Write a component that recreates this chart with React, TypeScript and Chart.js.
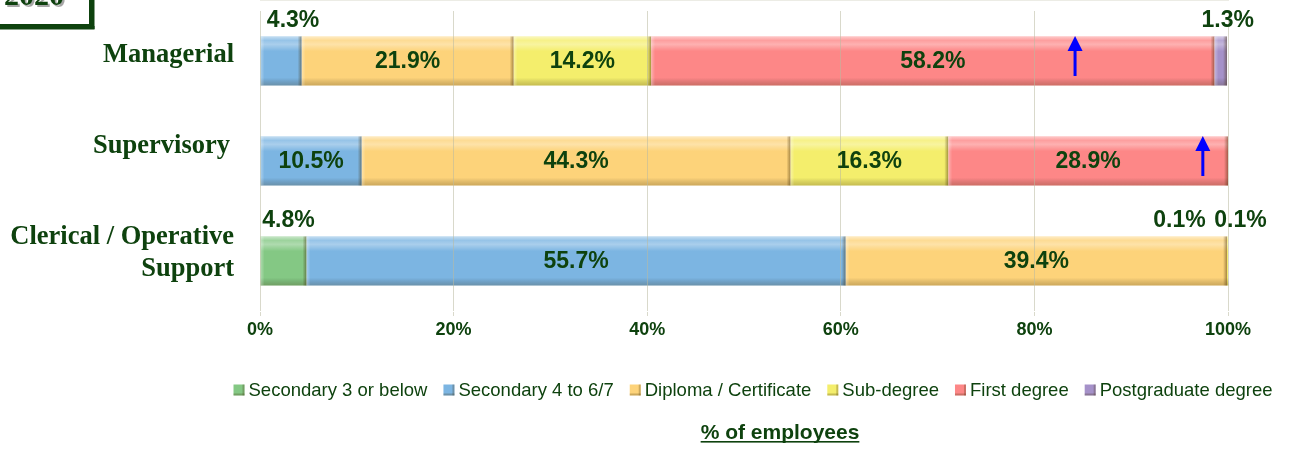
import { useEffect, useRef } from 'react';
import { Chart, registerables } from 'chart.js';

Chart.register(...registerables);

// ---------- data ----------
const CATEGORIES: (string | string[])[] = ['Managerial', 'Supervisory', ['Clerical / Operative', 'Support']];
const SERIES_NAMES = [
  'Secondary 3 or below',
  'Secondary 4 to 6/7',
  'Diploma / Certificate',
  'Sub-degree',
  'First degree',
  'Postgraduate degree',
];
const SECONDARY_3_OR_BELOW = [0, 0, 4.8];
const SECONDARY_4_TO_6_7 = [4.3, 10.5, 55.7];
const DIPLOMA_CERTIFICATE = [21.9, 44.3, 39.4];
const SUB_DEGREE = [14.2, 16.3, 0.1];
const FIRST_DEGREE = [58.2, 28.9, 0.1];
const POSTGRADUATE_DEGREE = [1.3, 0, 0];
const X_TICK_VALUES = [0, 20, 40, 60, 80, 100];
const ARROW_CATEGORIES = [0, 1];
const ARROW_VALUES = [84.2, 97.4];
const YEAR_LABEL = '2020';
const AXIS_TITLE = '% of employees';

const SERIES_VALUES = [
  SECONDARY_3_OR_BELOW,
  SECONDARY_4_TO_6_7,
  DIPLOMA_CERTIFICATE,
  SUB_DEGREE,
  FIRST_DEGREE,
  POSTGRADUATE_DEGREE,
];

// ---------- styles ----------
const COLORS = ['#84c884', '#7cb5e2', '#fdd37a', '#f4ee6c', '#fd8787', '#a591c9'];
const TEXT_GREEN = '#0e420e';
const SANS = '"Liberation Sans", Arial, sans-serif';
const SERIF = '"Liberation Serif", "Times New Roman", serif';
// horizontal nudges for labels placed above narrow segments: key = dataset-category
const ABOVE_DX: Record<string, number> = { '1-0': 12, '5-0': 7, '0-2': 5, '3-2': -48, '4-2': 12 };
const CATEGORY_LABEL_DY = [1, -8, -17];
const CATEGORY_LABEL_DX = [0, -4, 0];

const bevelPlugin = {
  id: 'bevel',
  afterDatasetsDraw(chart: any) {
    const ctx = chart.ctx as CanvasRenderingContext2D;
    ctx.save();
    chart.data.datasets.forEach((ds: any, i: number) => {
      const meta = chart.getDatasetMeta(i);
      meta.data.forEach((el: any, j: number) => {
        const v = ds.data[j];
        if (!v) return;
        const { x, y, base, height } = el.getProps(['x', 'y', 'base', 'height'], true);
        const l = Math.min(x, base);
        const r = Math.max(x, base);
        const t = y - height / 2;
        const w = r - l;
        if (w < 0.5) return;
        const g = ctx.createLinearGradient(0, t, 0, t + height);
        g.addColorStop(0, 'rgba(255,255,255,0.55)');
        g.addColorStop(0.08, 'rgba(255,255,255,0.2)');
        g.addColorStop(0.16, 'rgba(255,255,255,0.35)');
        g.addColorStop(0.3, 'rgba(255,255,255,0)');
        g.addColorStop(0.84, 'rgba(0,0,0,0)');
        g.addColorStop(1, 'rgba(60,40,0,0.25)');
        ctx.fillStyle = g;
        ctx.fillRect(l, t, w, height);
        const e = Math.min(4, w / 3);
        const gr = ctx.createLinearGradient(r - e, 0, r, 0);
        gr.addColorStop(0, 'rgba(60,40,0,0)');
        gr.addColorStop(1, 'rgba(60,40,0,0.45)');
        ctx.fillStyle = gr;
        ctx.fillRect(r - e, t, e, height);
        const gl = ctx.createLinearGradient(l, 0, l + e, 0);
        gl.addColorStop(0, 'rgba(255,255,255,0.35)');
        gl.addColorStop(1, 'rgba(255,255,255,0)');
        ctx.fillStyle = gl;
        ctx.fillRect(l, t, e, height);
      });
    });
    ctx.restore();
  },
};

const annotationPlugin = {
  id: 'annotations',
  afterDraw(chart: any) {
    const ctx = chart.ctx as CanvasRenderingContext2D;
    const area = chart.chartArea;
    const xs = chart.scales.x;
    const ys = chart.scales.y;
    ctx.save();

    // value labels
    ctx.fillStyle = TEXT_GREEN;
    ctx.font = `bold 23px ${SANS}`;
    ctx.textAlign = 'center';
    ctx.textBaseline = 'middle';
    chart.data.datasets.forEach((ds: any, i: number) => {
      const meta = chart.getDatasetMeta(i);
      meta.data.forEach((el: any, j: number) => {
        const v = ds.data[j] as number;
        if (!v) return;
        const { x, y, base, height } = el.getProps(['x', 'y', 'base', 'height'], true);
        const cx = (x + base) / 2;
        const text = v.toFixed(1) + '%';
        if (v >= 5) ctx.fillText(text, cx, y + 1);
        else ctx.fillText(text, cx + (ABOVE_DX[`${i}-${j}`] ?? 0), y - height / 2 - 16);
      });
    });

    // arrows
    ctx.strokeStyle = '#0000ff';
    ctx.fillStyle = '#0000ff';
    ctx.lineWidth = 3;
    ARROW_VALUES.forEach((val, k) => {
      const ax = xs.getPixelForValue(val);
      const cy = ys.getPixelForValue(ARROW_CATEGORIES[k]);
      const yBottom = cy + 15;
      const yTop = cy - 25;
      ctx.beginPath();
      ctx.moveTo(ax, yBottom);
      ctx.lineTo(ax, yTop + 12);
      ctx.stroke();
      ctx.beginPath();
      ctx.moveTo(ax, yTop);
      ctx.lineTo(ax - 7.5, yTop + 15);
      ctx.lineTo(ax + 7.5, yTop + 15);
      ctx.closePath();
      ctx.fill();
    });

    // category labels
    ctx.fillStyle = TEXT_GREEN;
    ctx.font = `bold 26.5px ${SERIF}`;
    ctx.textAlign = 'right';
    ctx.textBaseline = 'alphabetic';
    CATEGORIES.forEach((lab, k) => {
      const lines = Array.isArray(lab) ? lab : [lab];
      const cy = ys.getPixelForValue(k);
      lines.forEach((ln, m) => {
        ctx.fillText(ln, area.left - 26 + CATEGORY_LABEL_DX[k], cy + CATEGORY_LABEL_DY[k] + m * 32);
      });
    });

    // legend
    ctx.font = `18.5px ${SANS}`;
    ctx.textAlign = 'left';
    ctx.textBaseline = 'middle';
    const box = 11;
    const gapText = 4;
    const gapItem = 16;
    const widths = SERIES_NAMES.map((s) => ctx.measureText(s).width);
    const total = widths.reduce((a, w) => a + box + gapText + w, 0) + gapItem * (SERIES_NAMES.length - 1);
    let lx = (area.left + area.right) / 2 + 9 - total / 2;
    const ly = 390;
    SERIES_NAMES.forEach((name, k) => {
      ctx.fillStyle = COLORS[k];
      ctx.fillRect(lx, ly - box / 2, box, box);
      ctx.fillStyle = 'rgba(60,40,0,0.25)';
      ctx.fillRect(lx, ly + box / 2 - 2, box, 2);
      ctx.fillRect(lx + box - 2, ly - box / 2, 2, box);
      ctx.fillStyle = TEXT_GREEN;
      ctx.fillText(name, lx + box + gapText, ly + 1);
      lx += box + gapText + widths[k] + gapItem;
    });

    // axis title, underlined
    ctx.font = `bold 21px ${SANS}`;
    ctx.textAlign = 'center';
    ctx.textBaseline = 'alphabetic';
    const tx = (area.left + area.right) / 2 + 36;
    const tw = ctx.measureText(AXIS_TITLE).width;
    ctx.fillText(AXIS_TITLE, tx, 439);
    ctx.fillRect(tx - tw / 2, 441, tw, 1.6);

    // year box (cut at top edge)
    ctx.strokeStyle = TEXT_GREEN;
    ctx.lineWidth = 2;
    ctx.strokeRect(-10, -20, 100, 45);
    ctx.fillStyle = TEXT_GREEN;
    ctx.fillRect(91, -20, 3.5, 49);
    ctx.fillRect(-10, 26, 104.5, 3.5);
    ctx.font = `bold 30px ${SERIF}`;
    ctx.textAlign = 'left';
    ctx.fillStyle = 'rgba(0,0,0,0.35)';
    ctx.fillText(YEAR_LABEL, 6, 7);
    ctx.fillStyle = TEXT_GREEN;
    ctx.fillText(YEAR_LABEL, 4, 5);

    ctx.restore();
  },
};

export default function App() {
  const canvasRef = useRef<HTMLCanvasElement | null>(null);

  useEffect(() => {
    if (!canvasRef.current) return;
    const chart = new Chart(canvasRef.current, {
      type: 'bar',
      data: {
        labels: CATEGORIES as any,
        datasets: SERIES_NAMES.map((name, i) => ({
          label: name,
          data: SERIES_VALUES[i],
          backgroundColor: COLORS[i],
          borderWidth: 0,
          categoryPercentage: 1,
          barPercentage: 0.49,
        })),
      },
      options: {
        indexAxis: 'y',
        animation: false,
        responsive: true,
        maintainAspectRatio: false,
        devicePixelRatio: 1,
        layout: { padding: { left: 260, right: 61, top: 11, bottom: 0 } },
        plugins: {
          legend: { display: false },
          title: { display: false },
          tooltip: { enabled: false },
        },
        scales: {
          x: {
            type: 'linear',
            stacked: true,
            min: 0,
            max: 100,
            afterBuildTicks: (s: any) => {
              s.ticks = X_TICK_VALUES.map((v) => ({ value: v }));
            },
            afterFit: (s: any) => {
              s.height = 138;
            },
            ticks: {
              color: TEXT_GREEN,
              font: { family: SANS, size: 18, weight: 'bold' },
              padding: 3,
              callback: (v: any) => v + '%',
            },
            grid: {
              color: 'rgba(185,185,160,0.55)',
              lineWidth: 1,
              tickLength: 5,
              z: 1,
            },
            border: { display: true, color: 'rgba(185,185,160,0.55)' },
          },
          y: {
            type: 'category',
            stacked: true,
            display: false,
          },
        },
      },
      plugins: [bevelPlugin, annotationPlugin],
    } as any);
    return () => chart.destroy();
  }, []);

  return (
    <div style={{ position: 'absolute', left: 0, top: 0, width: 1289, height: 449, background: '#fff' }}>
      <canvas ref={canvasRef} />
    </div>
  );
}
